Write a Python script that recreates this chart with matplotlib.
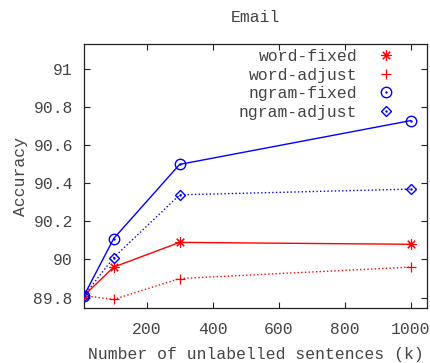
import matplotlib
matplotlib.use("Agg")
import matplotlib.pyplot as plt
from matplotlib.legend_handler import HandlerTuple
from matplotlib.lines import Line2D

x = [10, 100, 300, 1000]
word_fixed = [89.81, 89.96, 90.09, 90.08]
word_adjust = [89.81, 89.79, 89.90, 89.96]
ngram_fixed = [89.81, 90.11, 90.50, 90.73]
ngram_adjust = [89.81, 90.01, 90.34, 90.37]
labels = ["word-fixed", "word-adjust", "ngram-fixed", "ngram-adjust"]
xticks = [200, 400, 600, 800, 1000]
yticks = [89.8, 90.0, 90.2, 90.4, 90.6, 90.8, 91.0]
ytick_labels = ["89.8", "90", "90.2", "90.4", "90.6", "90.8", "91"]

FONT = "Liberation Mono"
FS = 11.8
TC = "#444444"
plt.rcParams["font.family"] = [FONT, "DejaVu Sans Mono"]

fig = plt.figure(figsize=(4.30, 3.63), dpi=100)
ax = fig.add_axes([84 / 430, 1 - 308 / 363, (427 - 84) / 430, (308 - 44) / 363])

red = "#ff0000"
blue = "#0000ff"
ms = 6.5

ax.plot(x, word_fixed, color=red, lw=1.0, ls="-", marker=(8, 2, 0), ms=ms + 1, mew=0.8, zorder=3)
ax.plot(x, word_adjust, color=red, lw=1.0, ls=":", marker="+", ms=ms + 1, mew=0.9, zorder=3)
ax.plot(x, ngram_fixed, color=blue, lw=1.0, ls="-", marker="o", ms=ms + 1, mew=1.0, mfc="none", zorder=4)
ax.plot(x, ngram_fixed, color=blue, lw=0, marker=".", ms=1.5, zorder=4)
ax.plot(x, ngram_adjust, color=blue, lw=1.0, ls=":", marker="D", ms=ms - 1, mew=1.0, mfc="none", zorder=4)
ax.plot(x, ngram_adjust, color=blue, lw=0, marker=".", ms=1.5, zorder=4)

ax.set_xlim(10, 1050)
ax.set_ylim(89.745, 91.133)
ax.set_xticks(xticks)
ax.set_xticklabels([str(t) for t in xticks])
ax.set_yticks(yticks)
ax.set_yticklabels(ytick_labels)
ax.tick_params(direction="in", top=True, right=True, length=4, width=0.8,
               labelsize=FS, labelcolor=TC, color="#222222", pad=8)
ax.tick_params(axis="x", pad=10)
for s in ax.spines.values():
    s.set_color("#222222")
    s.set_linewidth(0.9)

ax.set_xlabel("Number of unlabelled sentences (k)", fontsize=FS, color=TC, labelpad=7)
ax.set_ylabel("Accuracy", fontsize=FS, color=TC, labelpad=4)
fig.text(255 / 430, 1 - 17 / 363, "Email", ha="center", va="center", fontsize=FS, color=TC)

h1 = Line2D([], [], color=red, lw=0, marker=(8, 2, 0), ms=ms + 1, mew=0.8)
h2 = Line2D([], [], color=red, lw=0, marker="+", ms=ms + 1, mew=0.9)
h3 = (Line2D([], [], color=blue, lw=0, marker="o", ms=ms + 1, mew=1.0, mfc="none"),
      Line2D([], [], color=blue, lw=0, marker=".", ms=1.5))
h4 = (Line2D([], [], color=blue, lw=0, marker="D", ms=ms - 1, mew=1.0, mfc="none"),
      Line2D([], [], color=blue, lw=0, marker=".", ms=1.5))
leg = ax.legend([h1, h2, h3, h4], labels, markerfirst=False, frameon=False,
                handler_map={tuple: HandlerTuple(ndivide=1, pad=0)},
                handlelength=1.0, handletextpad=1.25, labelspacing=0.22,
                fontsize=FS, loc="upper right",
                bbox_to_anchor=(394 / 430, 1 - 49 / 363), bbox_transform=fig.transFigure,
                borderpad=0, borderaxespad=0)
for t in leg.get_texts():
    t.set_color(TC)

fig.savefig("out.png", dpi=100)
